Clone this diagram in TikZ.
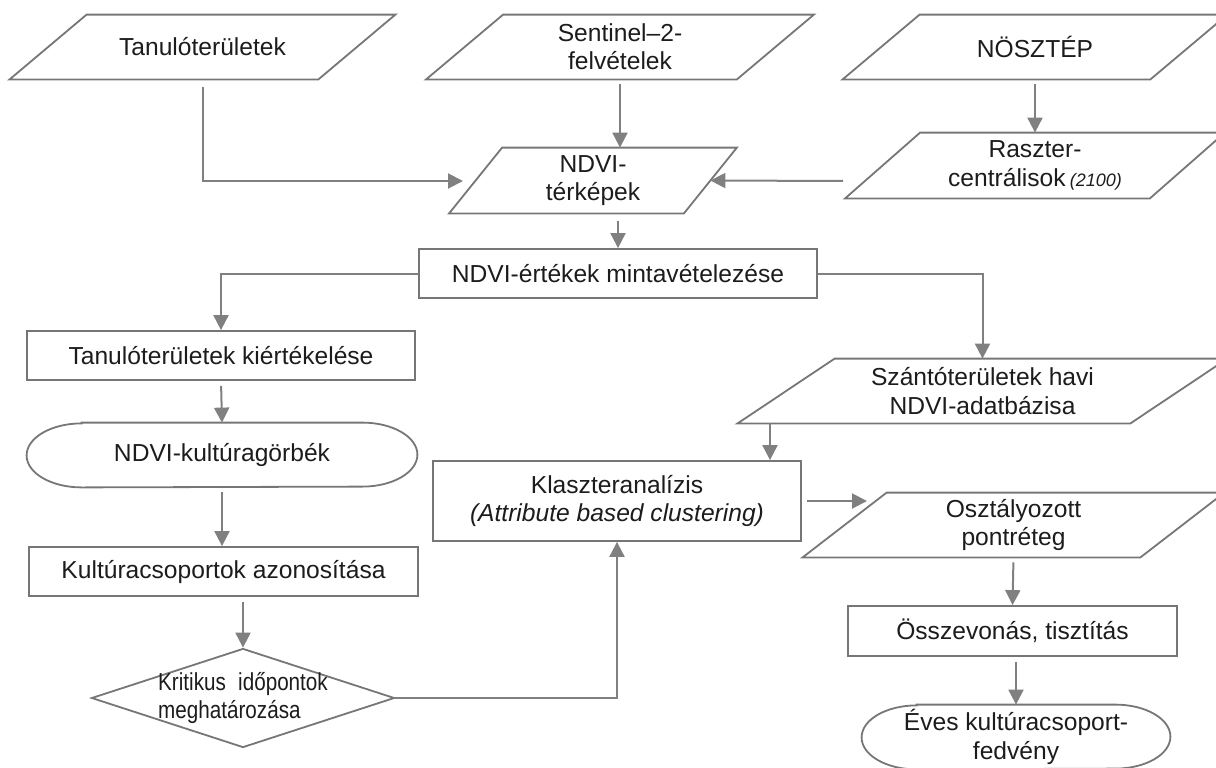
\documentclass[tikz,border=0pt]{standalone}
\usepackage{fontspec}
\setmainfont{Liberation Sans}
\newfontfamily\narrowsans[FakeStretch=0.84]{Liberation Sans}
\usetikzlibrary{arrows.meta,shapes.geometric}
\definecolor{linegray}{RGB}{128,128,128}
\definecolor{edgegray}{RGB}{118,118,118}
\definecolor{textgray}{RGB}{28,28,28}

\begin{document}
\begin{tikzpicture}[x=0.5pt, y=-0.5pt, >={Triangle[length=7.5pt,width=7.5pt]},
  default/.style={draw=edgegray, line width=0.9pt},
  boxtext/.style={text=textgray, font=\fontsize{12.3}{14.2}\selectfont, align=center, inner sep=0pt},
  box/.style={default, boxtext, rectangle},
  data/.style={boxtext, rectangle},
  terminal/.style={boxtext, rectangle},
  flow/.style={draw=linegray, line width=1pt, ->, shorten <=2.5pt}]
\useasboundingbox (0,0) rectangle (1216,767);
\node[data, minimum width=154pt, minimum height=32pt] (tanul) at (202.5,47) {Tanulóterületek};
\node[data, minimum width=155pt, minimum height=32pt] (sentinel) at (620,47) {Sentinel–2-\\felvételek};
\node[data, minimum width=153.5pt, minimum height=32pt] (noszt) at (1035,47) {NÖSZTÉP};
\node[data, minimum width=152pt, minimum height=32.5pt] (raszter) at (1035,165.5) {Raszter-\\centrálisok\,{\fontsize{9}{10}\selectfont\itshape(2100)}};
\node[data, minimum width=117pt, minimum height=32.5pt] (terkep) at (593,180.5) {NDVI-\\térképek};
\node[box, minimum width=199pt, minimum height=24.5pt] (mintav) at (618,273.5) {NDVI-értékek mintavételezése};
\node[box, minimum width=194pt, minimum height=24.5pt] (kiert) at (221,355.5) {Tanulóterületek kiértékelése};
\node[data, minimum width=196pt, minimum height=32pt] (szantdb) at (982.5,391) {Szántóterületek havi\\NDVI-adatbázisa};
\node[terminal, minimum width=195pt, minimum height=32pt] (gorbe) at (222,455) {NDVI-kultúragörbék};
\node[box, minimum width=184pt, minimum height=40pt] (klaszter) at (617,501) {Klaszteranalízis\\\textit{(Attribute based clustering)}};
\node[data, minimum width=168.5pt, minimum height=32pt] (oszt) at (1013.5,525) {Osztályozott\\pontréteg};
\node[box, minimum width=194.5pt, minimum height=24.5pt] (kultcsop) at (223.5,571.5) {Kultúracsoportok azonosítása};
\node[default, diamond, minimum width=151.5pt, minimum height=49.5pt, inner sep=0pt,
  label={[boxtext, align=left, font=\narrowsans\fontsize{12.3}{14}\selectfont]center:{Kritikus\enspace időpontok\\meghatározása}}] (krit) at (243,698) {};
\node[box, minimum width=164.5pt, minimum height=25pt] (osszev) at (1012.5,631) {Összevonás, tisztítás};
\node[terminal, minimum width=154pt, minimum height=32pt] (eves) at (1016,737) {Éves kultúracsoport-\\fedvény};
\foreach \n/\s in {tanul/19.25pt, sentinel/19.25pt, noszt/19.25pt, raszter/18.75pt, terkep/13.25pt, szantdb/24.25pt, oszt/21pt}
  \draw[default] ([xshift=-\s]\n.south west) -- ([xshift=-\s]\n.south east) -- ([xshift=\s]\n.north east) -- ([xshift=\s]\n.north west) -- cycle;
\foreach \n in {gorbe, eves}
  \draw[default] ([xshift=27.5pt]\n.north west) -- ([xshift=-27.5pt]\n.north east) arc[start angle=90, end angle=-90, x radius=27.5pt, y radius=16pt] -- ([xshift=27.5pt]\n.south west) arc[start angle=270, end angle=90, x radius=27.5pt, y radius=16pt] -- cycle;
\coordinate (tanin) at (463,181);
\coordinate (raszout) at (848,181);
\coordinate (szantout) at (770,423);
\coordinate (osztin) at (867,501);
\draw [flow, shorten <=4pt] (tanul.south) |- (tanin);
\draw [flow] (sentinel.south) -- (sentinel.south |- terkep.north);
\draw [flow] (noszt.south) -- (raszter.north);
\draw [flow] (raszout) -- (terkep.east);
\draw [flow, shorten <=4pt] (mintav.north |- terkep.south) -- (mintav.north);
\draw [flow, shorten <=0pt] (mintav.west) -| (kiert.north);
\draw [flow, shorten <=0pt] (mintav.east) -| (szantdb.north);
\draw [flow] (kiert.south) -- (gorbe.north);
\draw [flow] (gorbe.south) -- (gorbe.south |- kultcsop.north);
\draw [flow] (krit.north |- kultcsop.south) -- (krit.north);
\draw [flow, shorten <=0pt] (krit.east) -| (klaszter.south);
\draw [flow, shorten <=0pt] (szantout) -- (szantout |- klaszter.north);
\draw [flow] (klaszter.east) -- (osztin);
\draw [flow] (oszt.south) -- (osszev.north);
\draw [flow] (eves.north |- osszev.south) -- (eves.north);
\end{tikzpicture}
\end{document}
